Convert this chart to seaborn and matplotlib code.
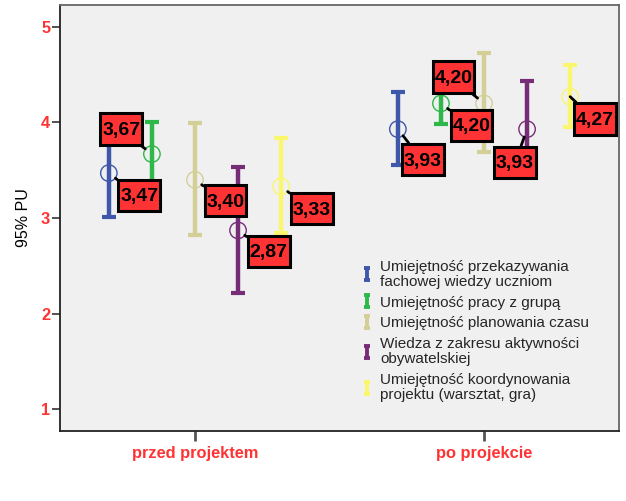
import numpy as np
import pandas as pd
import matplotlib
matplotlib.use("Agg")
import matplotlib.pyplot as plt
from matplotlib.path import Path
from matplotlib.lines import Line2D
import seaborn as sns

categories = ["przed projektem", "po projekcie"]
series = [
    "Umiejętność przekazywania\nfachowej wiedzy uczniom",
    "Umiejętność pracy z grupą",
    "Umiejętność planowania czasu",
    "Wiedza z zakresu aktywności\nobywatelskiej",
    "Umiejętność koordynowania\nprojektu (warsztat, gra)",
]
colors = ["#3F57AB", "#2EB84A", "#D4CF97", "#772C78", "#FAF66E"]

means_przed = [3.47, 3.67, 3.40, 2.87, 3.33]
means_po = [3.93, 4.20, 4.20, 3.93, 4.27]
lower_przed = [3.01, 3.32, 2.82, 2.21, 2.84]
upper_przed = [3.92, 4.01, 3.99, 3.53, 3.84]
lower_po = [3.55, 3.98, 3.69, 3.43, 3.95]
upper_po = [4.32, 4.43, 4.73, 4.43, 4.60]
labels_przed = ["3,47", "3,67", "3,40", "2,87", "3,33"]
labels_po = ["3,93", "4,20", "4,20", "3,93", "4,27"]

# label offsets (points) relative to the mean marker
offs_przed = [(22, -17), (-22, 17), (22, -16), (22, -16), (22, -17)]
offs_po = [(18, -23), (22, -17), (-22, 18), (-9, -25), (18, -17)]

rows = []
for ci, cat in enumerate(categories):
    m = means_przed if ci == 0 else means_po
    lo = lower_przed if ci == 0 else lower_po
    hi = upper_przed if ci == 0 else upper_po
    lab = labels_przed if ci == 0 else labels_po
    off = offs_przed if ci == 0 else offs_po
    for si, s in enumerate(series):
        rows.append(dict(cat=cat, ci=ci, si=si, series=s, mean=m[si], lo=lo[si],
                         hi=hi[si], label=lab[si], off=off[si]))
df = pd.DataFrame(rows)
dodge = 0.149
df["x"] = df["ci"] + (df["si"] - 2) * dodge


class TallBox:
    """Rectangle box with separate horizontal / top / bottom padding."""

    def __init__(self, padx, pad_top, pad_bottom):
        self.padx = padx
        self.pad_top = pad_top
        self.pad_bottom = pad_bottom

    def __call__(self, x0, y0, width, height, mutation_size):
        px = self.padx * mutation_size
        x1 = x0 + width + px
        y1 = y0 + height + self.pad_top * mutation_size
        x0 = x0 - px
        y0 = y0 - self.pad_bottom * mutation_size
        return Path([(x0, y0), (x1, y0), (x1, y1), (x0, y1), (x0, y0)], closed=True)


sns.set_style("white")
plt.rcParams["font.family"] = ["Liberation Sans", "DejaVu Sans"]

fig = plt.figure(figsize=(6.26, 5.01), dpi=100)
ax = fig.add_axes([60 / 626, 70 / 501, 559 / 626, 426 / 501])
ax.set_facecolor("#F0F0F0")

# error bars
for si, s in enumerate(series):
    d = df[df["si"] == si]
    ax.errorbar(d["x"], d["mean"], yerr=[d["mean"] - d["lo"], d["hi"] - d["mean"]],
                fmt="none", ecolor=colors[si], elinewidth=3.2, capsize=5, capthick=3,
                zorder=2)

sns.scatterplot(data=df, x="x", y="mean", hue="series", palette=colors, s=140,
                marker="o", linewidth=1, legend=False, ax=ax, zorder=3)
coll = ax.collections[-1]
fc = coll.get_facecolors()
coll.set_edgecolors(fc)
coll.set_facecolors("none")

# value labels
for _, r in df.iterrows():
    ax.annotate(r["label"], xy=(r["x"], r["mean"]), xytext=r["off"],
                textcoords="offset points", ha="center", va="center",
                fontsize=14, fontweight="bold", color="black", zorder=6,
                bbox=dict(boxstyle=TallBox(0.1, 0.44, 0.30), fc="#FF3333", ec="black", lw=2.2),
                arrowprops=dict(arrowstyle="-", color="black", lw=2, shrinkA=0, shrinkB=6))

ax.set_xlim(-0.467, 1.467)
ax.set_ylim(0.77, 5.23)
ax.set_xticks([0, 1])
ax.set_xticklabels(categories)
ax.set_yticks([1, 2, 3, 4, 5])
ax.set_yticklabels(["1", "2", "3", "4", "5"])
ax.set_xlabel("")
ax.set_ylabel("95% PU")
ax.yaxis.label.set_size(11.5)
ax.yaxis.label.set_color("black")
ax.yaxis.set_label_coords(-29 / 559, 0.5)

for lab in ax.get_xticklabels() + ax.get_yticklabels():
    lab.set_color("#FF3333")
    lab.set_fontweight("bold")
    lab.set_fontsize(11.8)
ax.tick_params(axis="y", which="major", left=True, length=6, width=1.2, color="#333333", pad=1)
ax.tick_params(axis="x", which="major", bottom=True, length=7, width=2, color="#555555", pad=4)
for sp in ["left", "bottom"]:
    ax.spines[sp].set_color("#222222")
    ax.spines[sp].set_linewidth(1.3)
for sp in ["top", "right"]:
    ax.spines[sp].set_color("#666666")
    ax.spines[sp].set_linewidth(1.3)

# legend with I-beam handles
ibeam = Path([(-0.5, 1), (0.5, 1), (0, 1), (0, -1), (-0.5, -1), (0.5, -1)],
             [Path.MOVETO, Path.LINETO, Path.MOVETO, Path.LINETO, Path.MOVETO, Path.LINETO])
handles = [Line2D([0], [0], lw=0, marker=ibeam, markersize=9, markeredgewidth=2.8,
                  color=c, markerfacecolor="none") for c in colors]
leg = ax.legend(handles, series, loc="upper left", bbox_to_anchor=(354 / 626, 1 - 252 / 501),
                bbox_transform=fig.transFigure, frameon=False, fontsize=11,
                handlelength=0.7, handletextpad=0.5, labelspacing=0.45, borderpad=0)
for t in leg.get_texts():
    t.set_linespacing(1.1)

fig.savefig("out.png", dpi=100, facecolor="white")
